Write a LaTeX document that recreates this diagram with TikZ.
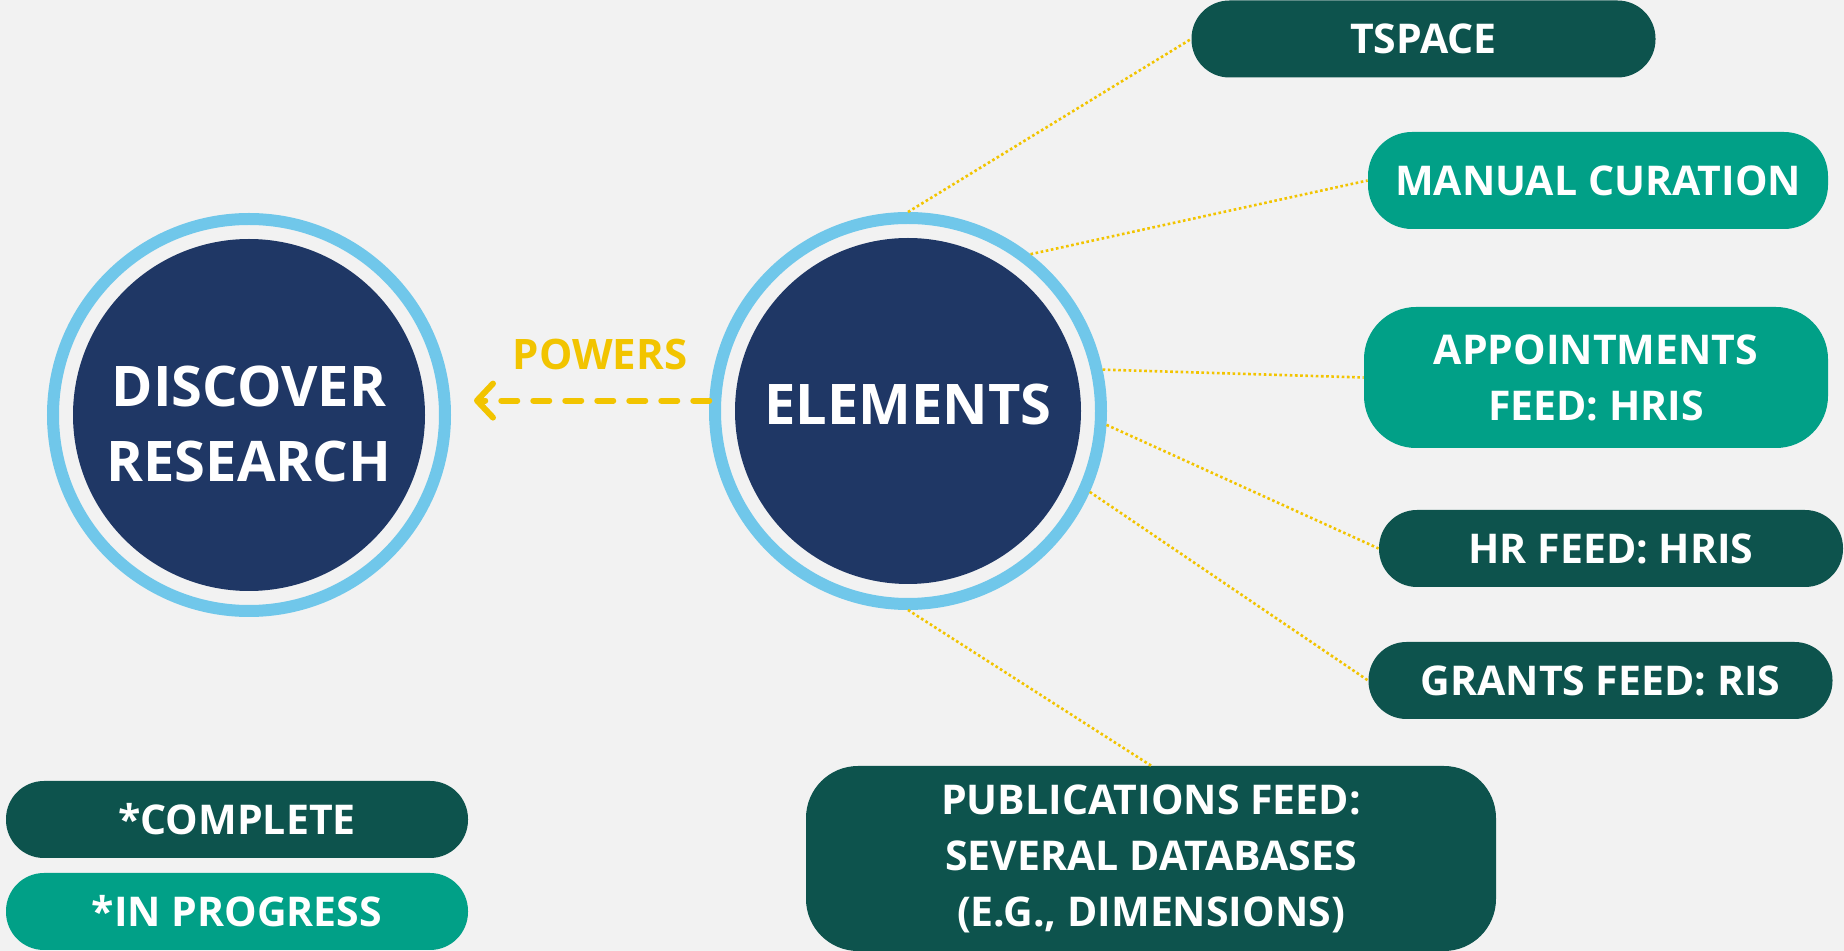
\documentclass[tikz,border=0pt]{standalone}
\usepackage{fontspec}
\setmainfont{Open Sans}
\usetikzlibrary{arrows.meta}

\definecolor{bggray}{HTML}{F2F2F2}
\definecolor{navy}{HTML}{1F3765}
\definecolor{ringblue}{HTML}{70C7EA}
\definecolor{doneteal}{HTML}{0D534D}
\definecolor{wipteal}{HTML}{01A087}
\definecolor{gold}{HTML}{F2C400}

\newcommand{\hubfont}{\fontsize{28}{37.5}\selectfont\bfseries}
\newcommand{\feedfont}{\fontsize{20.5}{28}\selectfont\bfseries}
\newcommand{\powersfont}{\fontsize{21}{25}\selectfont\bfseries}

\tikzset{
  hub/.style 2 args={circle, draw=ringblue, line width=6pt, fill=bggray,
    minimum size=#1, inner sep=0pt, text=white, font=\hubfont, align=center,
    path picture={\fill[navy] (path picture bounding box.center) circle[radius=#2];}},
  feed/.style={fill=doneteal, text=white, font=\feedfont, align=center,
    rounded corners=19pt, minimum width=232pt, minimum height=38.5pt, inner sep=0pt},
  wip/.style={feed, fill=wipteal},
  link/.style={gold, line width=1.3pt, dash pattern=on 1.3pt off 1.3pt},
  powers/.style={gold, line width=3pt, line cap=round, dash pattern=on 8pt off 8pt,
    -{Straight Barb[length=8pt,width=17pt,round]}}
}

\begin{document}
\begin{tikzpicture}[x=0.5pt, y=-0.5pt]
% Background
\path[use as bounding box, fill=bggray] (0,0) rectangle (1844,951);

% Hubs
\node[hub={196pt}{88pt}, text height=67pt, text depth=0pt] (discover) at (249,415) {DISCOVER\\RESEARCH};
\node[hub={193pt}{86.5pt}, text depth=7pt] (elements) at (908,411) {ELEMENTS};

% Feeds
\node[feed] (tspace) at (1423.5,39) {TSPACE};
\node[wip, minimum width=230pt, minimum height=48.5pt, rounded corners=22pt] (manual) at (1598,180.5) {MANUAL CURATION};
\node[wip, minimum height=70.5pt, rounded corners=26pt] (appoint) at (1596,377.5) {APPOINTMENTS\\FEED: HRIS};
\node[feed] (hrfeed) at (1611,548.5) {HR FEED: HRIS};
\node[feed] (grants) at (1600.5,680.5) {GRANTS FEED: RIS};
\node[feed, minimum width=345pt, minimum height=92.5pt, rounded corners=26pt] (pubs) at (1151,858.5)
  {PUBLICATIONS FEED:\\SEVERAL DATABASES\\(E.G., DIMENSIONS)};

% Legend
\node[feed, minimum width=231pt] (complete) at (237,819.5) {*COMPLETE};
\node[wip, minimum width=231pt] (inprogress) at (237,911.5) {*IN PROGRESS};

% Links out of Elements
\draw[link] (elements.90) -- (tspace.west);
\draw[link] (elements.52) -- (manual.west);
\draw[link] (elements.12) -- (appoint.west);
\draw[link] (elements.-4) -- (hrfeed.west);
\draw[link] (elements.-24) -- (grants.west);
\draw[link] (elements.-90) -- (pubs.north);

% Elements powers Discover
\draw[powers, shorten >=11.5pt] (elements.177) -- (elements.177 -| discover.east);
\node[text=gold, font=\powersfont] (powerslbl) at (600,354) {POWERS};
\end{tikzpicture}
\end{document}
